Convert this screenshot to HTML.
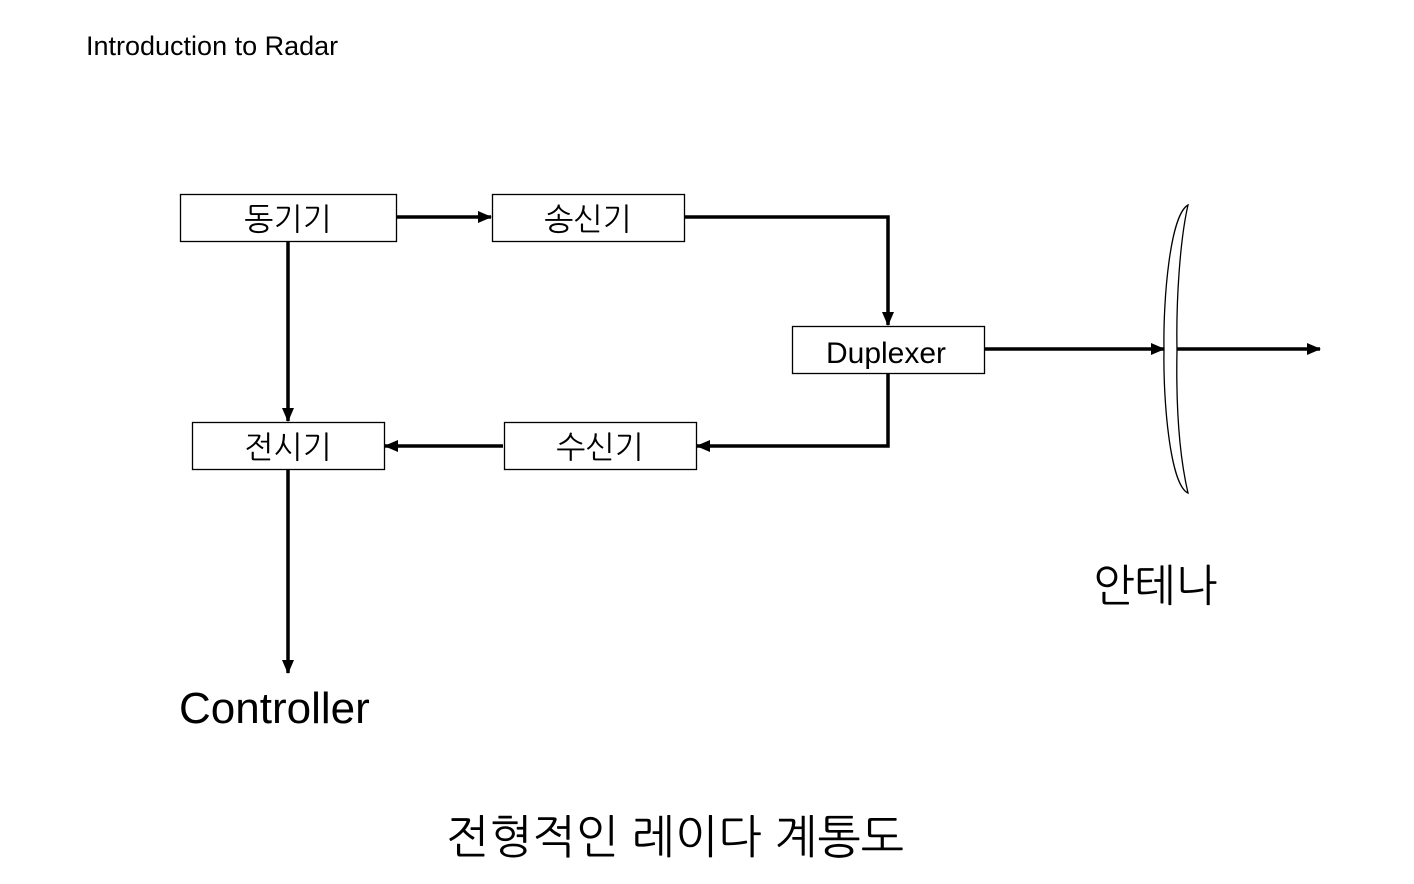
<!DOCTYPE html>
<html><head><meta charset="utf-8"><style>
html,body{margin:0;padding:0;background:#fff;width:1414px;height:884px;overflow:hidden}
svg text{font-family:"Liberation Sans","NanumGothic","Noto Sans CJK KR",sans-serif;fill:#000}
</style></head><body>
<svg width="1414" height="884" viewBox="0 0 1414 884" xmlns="http://www.w3.org/2000/svg">
<defs><marker id="a" markerWidth="10" markerHeight="10" refX="9" refY="5" orient="auto" markerUnits="userSpaceOnUse" viewBox="0 0 10 10"><path d="M0,0 L10,5 L0,10 z" fill="#000"/></marker>
<marker id="b" markerWidth="14" markerHeight="12" refX="13" refY="6" orient="auto" markerUnits="userSpaceOnUse" viewBox="0 0 14 12"><path d="M0,0 L14,6 L0,12 z" fill="#000"/></marker></defs>
<text x="86" y="55" font-size="27">Introduction to Radar</text>
<g fill="#fff" stroke="#000" stroke-width="1.3">
<rect x="180.5" y="194.5" width="216" height="47"/>
<rect x="492.5" y="194.5" width="192" height="47"/>
<rect x="792.5" y="326.5" width="192" height="47"/>
<rect x="192.5" y="422.5" width="192" height="47"/>
<rect x="504.5" y="422.5" width="192" height="47"/>
</g>
<g font-size="31" text-anchor="middle">
<text x="288" y="230">동기기</text>
<text x="588" y="230">송신기</text>
<text x="886" y="363" font-size="30">Duplexer</text>
<text x="288" y="458">전시기</text>
<text x="600" y="458">수신기</text>
</g>
<g stroke="#000" stroke-width="3.5" fill="none">
<path d="M397,217 H491" marker-end="url(#b)"/>
<path d="M685,217 H888 V325" marker-end="url(#b)"/>
<path d="M888,374 V446 H697" marker-end="url(#b)"/>
<path d="M503,446 H385" marker-end="url(#b)"/>
<path d="M288,242 V421" marker-end="url(#b)"/>
<path d="M288,470 V673" marker-end="url(#b)"/>
<path d="M985,349 H1164" marker-end="url(#b)"/>
<path d="M1177,349 H1320" marker-end="url(#b)"/>
</g>
<path d="M1188,205 C1170,215 1163,300 1164,350 C1163,400 1170,485 1188,493 C1178,450 1176,400 1177,350 C1176,300 1180,240 1188,205 Z" fill="#fff" stroke="#000" stroke-width="1.3"/>
<text x="179" y="723" font-size="44">Controller</text>
<text x="1093" y="601" font-size="44">안테나</text>
<text x="446" y="853" font-size="46">전형적인 레이다 계통도</text>
</svg>
</body></html>
